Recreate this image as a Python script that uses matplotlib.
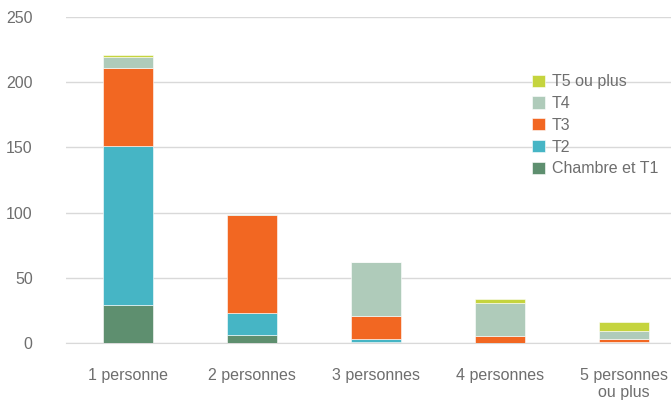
import matplotlib.pyplot as plt
import numpy as np

plt.rcParams['font.family'] = ['Liberation Sans', 'DejaVu Sans']

categories = ["1 personne", "2 personnes", "3 personnes", "4 personnes", "5 personnes\nou plus"]
series_names = ["Chambre et T1", "T2", "T3", "T4", "T5 ou plus"]
chambre_t1 = [29, 6, 1, 0, 1]
t2 = [122, 17, 2, 0, 0]
t3 = [60, 75, 18, 5, 2]
t4 = [8, 1, 41, 26, 6]
t5 = [2, 0, 0, 3, 7]
y_ticks = [0, 50, 100, 150, 200, 250]

series = [chambre_t1, t2, t3, t4, t5]
colors = ["#5E8F6F", "#46B5C5", "#F26722", "#AFCBBA", "#C5D43E"]
text_color = "#6E6E6E"

fig = plt.figure(figsize=(6.71, 4.01), dpi=100)
ax = fig.add_axes([66 / 671, 58 / 401, 605 / 671, 326 / 401])

x = np.arange(len(categories))
bottom = np.zeros(len(categories))
handles = []
for name, vals, col in zip(series_names, series, colors):
    vals = np.array(vals, dtype=float)
    b = ax.bar(x, vals, width=0.4, bottom=bottom, color=col, label=name,
               edgecolor="white", linewidth=0.4, zorder=3)
    handles.append(b)
    bottom += vals

ax.set_ylim(0, 250)
ax.set_xlim(-0.5, 4.38)
ax.set_yticks(y_ticks)
ax.set_xticks(x)
ax.set_xticklabels(categories)
ax.yaxis.grid(True, color="#D9D9D9", linewidth=1, zorder=0)
for s in ["top", "right", "left"]:
    ax.spines[s].set_visible(False)
ax.spines["bottom"].set_color("#D9D9D9")
ax.tick_params(axis="both", length=0, labelsize=11.5, colors=text_color)
ax.tick_params(axis="x", pad=18)
ax.tick_params(axis="y", pad=24)

leg = ax.legend(handles[::-1], series_names[::-1], loc="upper left",
                bbox_to_anchor=(460 / 605, 275 / 326), frameon=False,
                fontsize=11.5, handlelength=0.8, handleheight=0.8,
                handletextpad=0.4, labelspacing=0.42, borderaxespad=0)
for t in leg.get_texts():
    t.set_color(text_color)

fig.savefig("out.png", dpi=100)
